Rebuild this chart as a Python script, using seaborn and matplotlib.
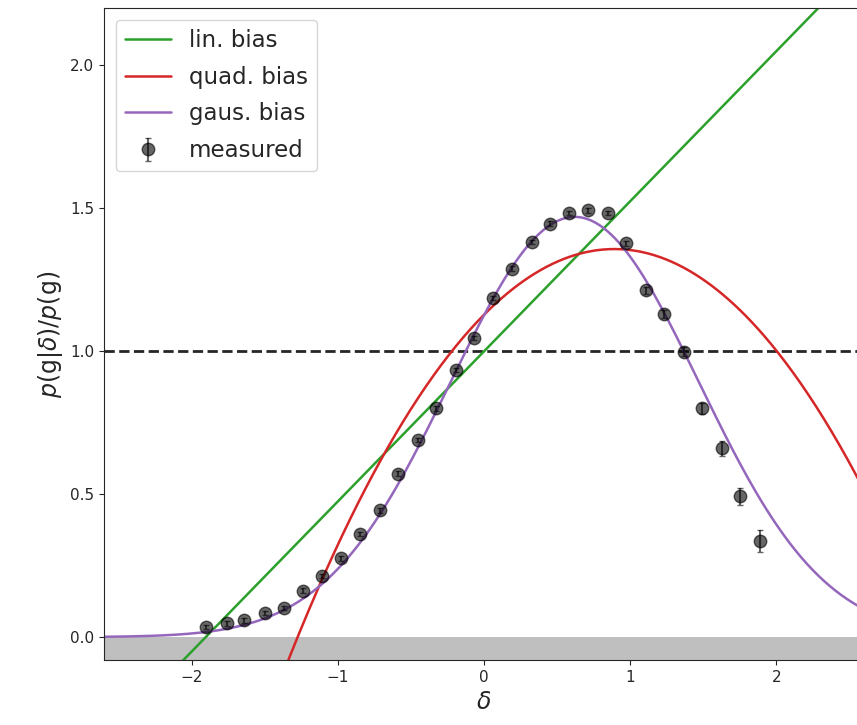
import matplotlib
matplotlib.use('Agg')
import matplotlib.pyplot as plt
import numpy as np
import pandas as pd
import seaborn as sns

# measured points
delta = [-1.90, -1.76, -1.64, -1.50, -1.37, -1.24, -1.11, -0.98, -0.85, -0.71,
         -0.59, -0.45, -0.33, -0.19, -0.07, 0.06, 0.19, 0.33, 0.45, 0.58,
         0.71, 0.85, 0.97, 1.11, 1.23, 1.37, 1.49, 1.63, 1.75, 1.89]
ratio = [0.036, 0.048, 0.059, 0.085, 0.102, 0.163, 0.213, 0.275, 0.360, 0.443,
         0.572, 0.689, 0.800, 0.934, 1.047, 1.186, 1.289, 1.382, 1.446, 1.484,
         1.493, 1.484, 1.377, 1.213, 1.129, 0.998, 0.800, 0.660, 0.493, 0.337]
ratio_err = [0.008, 0.008, 0.008, 0.008, 0.008, 0.008, 0.008, 0.008, 0.008, 0.008,
             0.008, 0.008, 0.008, 0.008, 0.008, 0.008, 0.008, 0.008, 0.008, 0.008,
             0.008, 0.008, 0.010, 0.012, 0.014, 0.016, 0.020, 0.026, 0.030, 0.038]

# fitted bias models
lin_coef = [1.0, 0.525]             # b0 + b1*d
quad_coef = [1.128, 0.515, -0.289]  # b0 + b1*d + b2*d^2
gaus_par = [1.47, 0.62, 0.85]       # A, mu, sigma

xgrid = np.linspace(-2.6, 2.6, 400)
curves = pd.DataFrame({
    'delta': np.tile(xgrid, 3),
    'model': np.repeat(['lin. bias', 'quad. bias', 'gaus. bias'], len(xgrid)),
    'value': np.concatenate([
        lin_coef[0] + lin_coef[1] * xgrid,
        quad_coef[0] + quad_coef[1] * xgrid + quad_coef[2] * xgrid**2,
        gaus_par[0] * np.exp(-(xgrid - gaus_par[1])**2 / (2 * gaus_par[2]**2)),
    ]),
})

sns.set_style('ticks')
fig = plt.figure(figsize=(8.57, 7.25), dpi=100)
ax = fig.add_axes([0.1215, 0.0897, 0.8868, 0.899])

ax.axhspan(-0.08, 0.0, color='grey', alpha=0.5, lw=0)
ax.axhline(1.0, color='k', ls='--', lw=2, alpha=0.85)

sns.lineplot(data=curves, x='delta', y='value', hue='model',
             palette=['tab:green', 'tab:red', 'tab:purple'], lw=1.8, ax=ax)
ax.errorbar(delta, ratio, yerr=ratio_err, fmt='o', color='k', ms=9,
            alpha=0.6, capsize=2, label='measured')

ax.set_xlim(-2.6, 2.6)
ax.set_ylim(-0.08, 2.2)
ax.set_xticks([-2, -1, 0, 1, 2])
ax.set_yticks([0.0, 0.5, 1.0, 1.5, 2.0])
ax.tick_params(labelsize=11)
ax.set_xlabel(r'$\delta$', size=17)
ax.set_ylabel(r'$p(\mathrm{g}|\delta)/p(\mathrm{g})$', size=17)
ax.legend(loc='upper left', fontsize=16.5, labelspacing=0.6, title=None)

plt.savefig('out.png', dpi=100)
